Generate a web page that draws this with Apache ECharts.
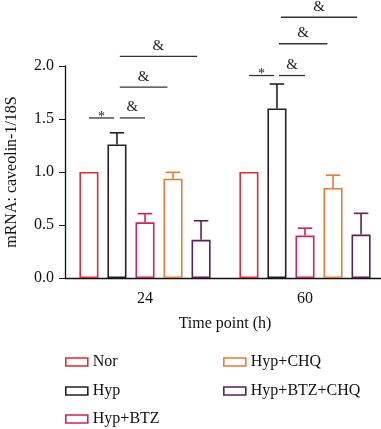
<!DOCTYPE html>
<html>
<head>
<meta charset="utf-8">
<script src="https://cdn.jsdelivr.net/npm/echarts@6/dist/echarts.min.js"></script>
<style>
  html, body { margin: 0; padding: 0; background: #fff; }
  #chart { width: 381px; height: 429px; }
</style>
</head>
<body>
<div id="chart"></div>
<script>
// data
var timePoints = ['24', '60'];
var groups = ['Nor', 'Hyp', 'Hyp+BTZ', 'Hyp+CHQ', 'Hyp+BTZ+CHQ'];
var colors = ['#e32a30', '#222222', '#d81d63', '#f07a2c', '#5c1d5e'];
var means = [
  [1.0, 1.0],
  [1.26, 1.60],
  [0.525, 0.40],
  [0.937, 0.85],
  [0.36, 0.41]
];
var errTops = [
  [null, null],
  [1.37, 1.83],
  [0.607, 0.47],
  [0.997, 0.97],
  [0.54, 0.61]
];
// [time index, from slot, to slot, y, mark]
var sigMarks = [
  [0, 0, 0.9, 1.51, '*'],
  [0, 1.1, 2.0, 1.51, '&'],
  [0, 1.1, 2.8, 1.80, '&'],
  [0, 1.1, 3.86, 2.09, '&'],
  [1, 0, 0.9, 1.91, '*'],
  [1, 1.07, 2.0, 1.91, '&'],
  [1, 1.07, 2.8, 2.21, '&'],
  [1, 1.14, 3.86, 2.46, '&']
];

var CAT_GAP = 0.18, BAR_GAP = 0.47;
var FONT = '"Liberation Serif", "Times New Roman", serif';

function slotStep(api) {
  var band = api.size([1, 0])[0];
  var w = band * (1 - CAT_GAP) / (groups.length + (groups.length - 1) * BAR_GAP);
  return { w: w, step: w * (1 + BAR_GAP) };
}

var series = [];
groups.forEach(function (name, i) {
  series.push({
    name: name,
    type: 'bar',
    data: means[i],
    barGap: (BAR_GAP * 100) + '%',
    barCategoryGap: (CAT_GAP * 100) + '%',
    itemStyle: { color: '#fff', borderColor: colors[i], borderWidth: 1.6 },
    emphasis: { disabled: true }
  });
});

// error bars (upper half only)
var errData = [];
groups.forEach(function (g, i) {
  errTops[i].forEach(function (top, t) {
    if (top != null) errData.push([t, i, means[i][t], top]);
  });
});
series.push({
  type: 'custom',
  data: errData,
  silent: true,
  z: 1,
  renderItem: function (params, api) {
    var t = api.value(0), i = api.value(1);
    var s = slotStep(api);
    var base = api.coord([t, api.value(2)]);
    var top = api.coord([t, api.value(3)]);
    var x = base[0] + (i - 2) * s.step;
    var half = s.w * 0.38;
    var st = { stroke: colors[i], lineWidth: 1.6 };
    return {
      type: 'group',
      children: [
        { type: 'line', shape: { x1: x, y1: base[1], x2: x, y2: top[1] }, style: st },
        { type: 'line', shape: { x1: x - half, y1: top[1], x2: x + half, y2: top[1] }, style: st }
      ]
    };
  }
});

// significance brackets
series.push({
  type: 'custom',
  data: sigMarks,
  silent: true,
  clip: false,
  renderItem: function (params, api) {
    var t = api.value(0);
    var s = slotStep(api);
    var c = api.coord([t, api.value(3)]);
    var x1 = c[0] + (api.value(1) - 2) * s.step;
    var x2 = c[0] + (api.value(2) - 2) * s.step;
    var mark = sigMarks[params.dataIndex][4];
    return {
      type: 'group',
      children: [
        { type: 'line', shape: { x1: x1, y1: c[1], x2: x2, y2: c[1] },
          style: { stroke: '#333', lineWidth: 1.3 } },
        { type: 'text', style: {
            text: mark, x: (x1 + x2) / 2, y: mark === '*' ? c[1] + 6 : c[1] - 3,
            align: 'center', verticalAlign: 'bottom',
            font: (mark === '*' ? '14px ' : '15px ') + FONT, fill: '#222' } }
      ]
    };
  }
});

var legendText = { fontFamily: FONT, fontSize: 16, color: '#111' };
// one legend per entry: [group index, left, top]
var legendSpots = [[0, 65, 354], [1, 65, 383], [2, 65, 411], [3, 223, 354], [4, 223, 383]];
var legends = legendSpots.map(function (p) {
  return {
    data: [groups[p[0]]], left: p[1], top: p[2], padding: 0,
    itemWidth: 22, itemHeight: 8, itemGap: 6, icon: 'rect',
    textStyle: legendText, selectedMode: false,
    itemStyle: { borderWidth: 1.6 }
  };
});

var option = {
  animation: false,
  textStyle: { fontFamily: FONT },
  grid: { left: 65, top: 66, width: 320, bottom: 151, outerBoundsMode: 'none' },
  legend: legends,
  xAxis: {
    type: 'category',
    data: timePoints,
    name: 'Time point (h)',
    nameLocation: 'middle',
    nameGap: 38,
    nameTextStyle: { fontFamily: FONT, fontSize: 16, color: '#111' },
    axisLine: { lineStyle: { color: '#111', width: 1.3 } },
    axisTick: { alignWithLabel: true, length: 5, lineStyle: { color: '#111' } },
    axisLabel: { fontFamily: FONT, fontSize: 16, color: '#111', margin: 13 }
  },
  yAxis: {
    type: 'value',
    min: 0,
    max: 2,
    interval: 0.5,
    name: 'mRNA: caveolin-1/18S',
    nameLocation: 'middle',
    nameGap: 45,
    nameTextStyle: { fontFamily: FONT, fontSize: 16, color: '#111' },
    axisLine: { show: true, lineStyle: { color: '#111', width: 1.3 } },
    axisTick: { show: true, length: 6, lineStyle: { color: '#111' } },
    axisLabel: { fontFamily: FONT, fontSize: 16, color: '#111', margin: 11,
      formatter: function (v) { return v.toFixed(1); } },
    splitLine: { show: false }
  },
  series: series
};

var chart = echarts.init(document.getElementById('chart'));
chart.setOption(option);
</script>
</body>
</html>
